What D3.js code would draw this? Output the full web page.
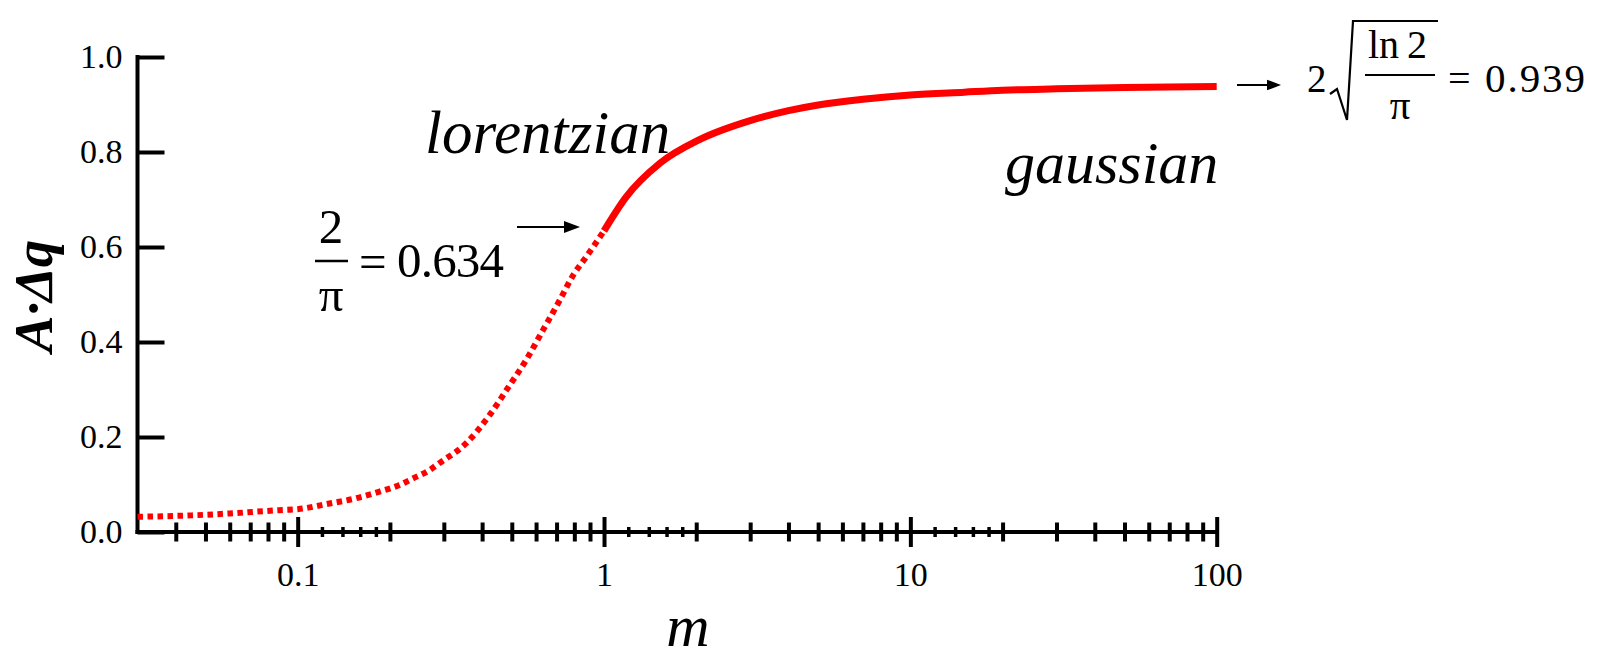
<!DOCTYPE html>
<html>
<head>
<meta charset="utf-8">
<script src="https://cdn.jsdelivr.net/npm/d3@7"></script>
<style>
  body { margin: 0; background: #fff; }
  svg { display: block; }
  svg text { font-family: "Liberation Serif", "DejaVu Serif", serif !important; }
</style>
</head>
<body>
<svg id="chart" width="1600" height="659"></svg>
<script>
// axis ticks
var yTicksMajor = [0, 0.2, 0.4, 0.6, 0.8, 1.0];
var yTicksMinor = [0.05, 0.1, 0.15, 0.25, 0.3, 0.35, 0.45, 0.5, 0.55, 0.65, 0.7, 0.75, 0.85, 0.9, 0.95];
var xTicksMajor = [0.1, 1, 10, 100];
var xTicksMid = [0.04, 0.05, 0.06, 0.07, 0.08, 0.09,
                 0.2, 0.3, 0.4, 0.5, 0.6, 0.7, 0.8, 0.9,
                 2, 3, 4, 5, 6, 7, 8, 9,
                 20, 30, 40, 50, 60, 70, 80, 90];
var xTicksSmall = [0.12, 0.14, 0.16, 0.18, 1.2, 1.4, 1.6, 1.8, 12, 14, 16, 18];

// curve: dotted part (m <= 1) and solid part (m >= 1)
var mLorentz = [0.03, 0.045, 0.06, 0.087, 0.1, 0.127, 0.155, 0.185, 0.215, 0.238, 0.269, 0.29,
                0.355, 0.423, 0.492, 0.557, 0.632, 0.717, 0.792, 0.876, 0.944, 1.0];
var aLorentz = [0.032, 0.035, 0.039, 0.046, 0.048, 0.060, 0.071, 0.085, 0.099, 0.113, 0.13, 0.145,
                0.187, 0.246, 0.309, 0.362, 0.425, 0.488, 0.54, 0.58, 0.61, 0.634];
var mGauss = [1, 1.18, 1.52, 2.05, 3, 4, 5, 7, 10, 15, 20, 30, 50, 70, 100];
var aGauss = [0.634, 0.705, 0.776, 0.826, 0.866, 0.887, 0.899, 0.911, 0.920, 0.926, 0.930, 0.933, 0.936, 0.937, 0.938];

var svg = d3.select("#chart");

var x = d3.scaleLog().domain([0.03, 100]).range([137.5, 1216.7]),
    y = d3.scaleLinear().domain([0, 1]).range([532, 57]);

var FONT = '"Liberation Serif", "DejaVu Serif", serif';

// ---- y axis: inward ticks, labels on the left
var gy = svg.append("g").attr("transform", "translate(" + x.range()[0] + ",0)");
gy.call(d3.axisLeft(y).tickValues(yTicksMinor).tickSize(-15).tickFormat(""));
gy.call(d3.axisLeft(y).tickValues(yTicksMajor).tickSizeInner(-27).tickSizeOuter(0)
        .tickPadding(15).tickFormat(d3.format(".1f")));
gy.attr("font-family", FONT);
gy.selectAll(".domain").remove();
gy.selectAll("line").attr("stroke", "#000").attr("stroke-width", 4);
gy.selectAll("text").attr("font-size", 34).attr("fill", "#000");
gy.append("line")
  .attr("x1", 0).attr("x2", 0).attr("y1", y(1) - 2).attr("y2", y(0) + 2)
  .attr("stroke", "#000").attr("stroke-width", 4);

// ---- x axis: ticks cross the line
var gx = svg.append("g").attr("transform", "translate(0," + y(0) + ")");
function crossTicks(vals, half, w) {
  var g = gx.append("g");
  g.call(d3.axisBottom(x).tickValues(vals).tickSize(half).tickFormat(""));
  g.selectAll(".domain").remove();
  g.selectAll("line").attr("y1", -half).attr("y2", half)
    .attr("stroke", "#000").attr("stroke-width", w);
  return g;
}
crossTicks(xTicksSmall, 5, 3.5);
crossTicks(xTicksMid, 9.5, 4);
crossTicks(xTicksMajor, 15, 4);
var gLab = gx.append("g");
gLab.call(d3.axisBottom(x).tickValues(xTicksMajor).tickSize(15).tickPadding(15)
          .tickFormat(function(d) { return d3.format("~g")(d); }));
gLab.attr("font-family", FONT);
gLab.selectAll(".domain").remove();
gLab.selectAll("line").remove();
gLab.selectAll("text").attr("font-size", 34).attr("fill", "#000");
gx.append("line")
  .attr("x1", x.range()[0] - 2).attr("x2", x.range()[1])
  .attr("y1", 0).attr("y2", 0)
  .attr("stroke", "#000").attr("stroke-width", 4);

// ---- curve
var line = d3.line()
  .x(function(d) { return x(d[0]); })
  .y(function(d) { return y(d[1]); })
  .curve(d3.curveMonotoneX);

svg.append("path")
  .datum(d3.zip(mLorentz, aLorentz))
  .attr("d", line)
  .attr("fill", "none").attr("stroke", "#ff0000")
  .attr("stroke-width", 6).attr("stroke-dasharray", "5.5 4.5");

svg.append("path")
  .datum(d3.zip(mGauss, aGauss))
  .attr("d", line)
  .attr("fill", "none").attr("stroke", "#ff0000")
  .attr("stroke-width", 7);

// ---- axis titles
svg.append("text")
  .attr("x", 688).attr("y", 646).attr("text-anchor", "middle")
  .attr("font-family", FONT).attr("font-style", "italic").attr("font-size", 60)
  .text("m");

svg.append("text")
  .attr("transform", "translate(52,296) rotate(-90)")
  .attr("text-anchor", "middle")
  .attr("font-family", FONT).attr("font-style", "italic").attr("font-weight", "bold")
  .attr("font-size", 55)
  .text("A·Δq");

// ---- annotations
function txt(s, px, py, size, opts) {
  opts = opts || {};
  var t = svg.append("text")
    .attr("x", px).attr("y", py)
    .attr("font-family", FONT).attr("font-size", size)
    .attr("text-anchor", opts.anchor || "start")
    .attr("fill", "#000")
    .text(s);
  if (opts.italic) t.attr("font-style", "italic");
  if (opts.len) t.attr("textLength", opts.len).attr("lengthAdjust", "spacing");
  return t;
}
function arrow(x1, x2, yy, head) {
  svg.append("line").attr("x1", x1).attr("x2", x2 - head).attr("y1", yy).attr("y2", yy)
    .attr("stroke", "#000").attr("stroke-width", 2);
  svg.append("path")
    .attr("d", "M" + (x2 - head) + "," + (yy - head * 0.38) + "L" + x2 + "," + yy +
               "L" + (x2 - head) + "," + (yy + head * 0.38) + "Z")
    .attr("fill", "#000");
}

txt("lorentzian", 425, 153, 61, { italic: true });
txt("gaussian", 1005, 183, 60, { italic: true });

// 2/π = 0.634
txt("2", 331, 243, 49, { anchor: "middle" });
svg.append("line").attr("x1", 315).attr("x2", 348).attr("y1", 261).attr("y2", 261)
  .attr("stroke", "#000").attr("stroke-width", 2.5);
txt("π", 331, 311, 49, { anchor: "middle" });
txt("=", 359, 278, 49);
txt("0.634", 397, 277, 49, { len: 107 });
arrow(517, 580, 227, 16);

// 2 sqrt(ln2/π) = 0.939
arrow(1237, 1281, 85, 14);
txt("2", 1307, 92, 39);
svg.append("path")
  .attr("d", "M1330,94 L1337,89 L1347,120 L1353,21 L1438,21")
  .attr("fill", "none").attr("stroke", "#000").attr("stroke-width", 2.2)
  .attr("stroke-linejoin", "miter");
txt("ln\u20092", 1368, 58, 40);
svg.append("line").attr("x1", 1365).attr("x2", 1435).attr("y1", 75).attr("y2", 75)
  .attr("stroke", "#000").attr("stroke-width", 2);
txt("π", 1400, 119, 41, { anchor: "middle" });
txt("=", 1448, 92, 40);
txt("0.939", 1485, 92, 41, { len: 100 });
</script>
</body>
</html>
